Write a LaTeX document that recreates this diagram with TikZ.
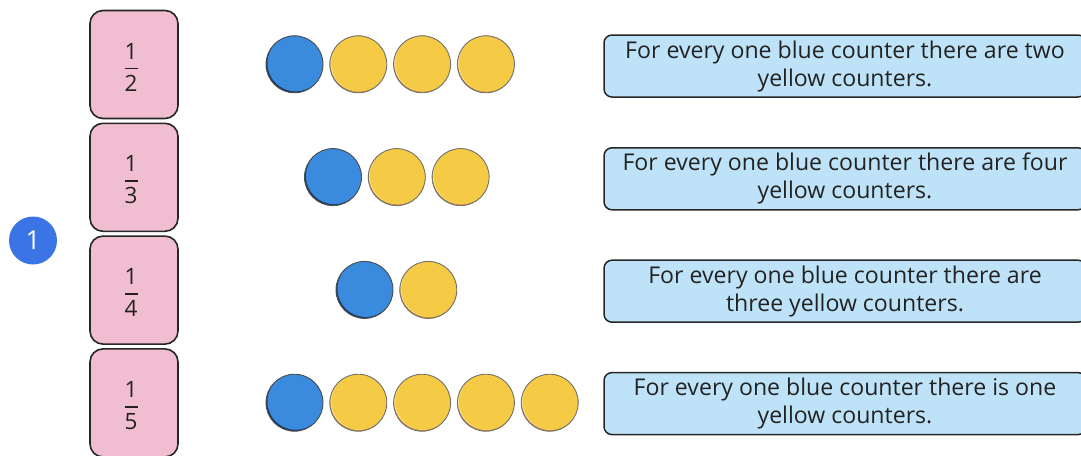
\documentclass[tikz,border=0pt]{standalone}
\usepackage{fontspec}
\setmainfont{Open Sans}
\definecolor{pinkfill}{HTML}{F0BED0}
\definecolor{boxfill}{HTML}{BEE3F8}
\definecolor{edge}{HTML}{262626}
\definecolor{txt}{HTML}{222222}
\definecolor{numblue}{HTML}{3B74E4}
\definecolor{bfill}{HTML}{3A8ADD}
\definecolor{brim}{HTML}{1D3C63}
\definecolor{yfill}{HTML}{F5CB45}
\definecolor{yrim}{HTML}{C98A2C}
\definecolor{cgray}{HTML}{707070}
\begin{document}
\begin{tikzpicture}[x=1pt,y=-1pt,
  fraccard/.style={draw=edge,line width=1.6pt,fill=pinkfill,rounded corners=13pt,minimum width=88pt,minimum height=108pt,inner sep=0pt},
  fracnum/.style={anchor=base,inner sep=0pt,text=txt,font=\fontsize{22.5}{26}\selectfont},
  fracbar/.style={line width=1.7pt,draw=txt},
  statement/.style={draw=edge,line width=1.5pt,fill=boxfill,rounded corners=8pt,minimum width=482pt,minimum height=62pt,align=center,text=txt,inner sep=0pt,font=\fontsize{23.1}{28}\selectfont},
  bluec/.style={circle,minimum size=57pt,inner sep=0pt,draw=cgray!70!black,line width=0.9pt,fill=brim,
    path picture={\fill[bfill] ([xshift=1.2pt,yshift=1.2pt]path picture bounding box.center) circle (28.2pt);}},
  yellowc/.style={circle,minimum size=57pt,inner sep=0pt,draw=cgray,line width=0.9pt,fill=yrim,
    path picture={\fill[yfill!60!white] ([xshift=0.4pt,yshift=1.2pt]path picture bounding box.center) circle (28.4pt);
                  \fill[yfill] ([xshift=1.3pt,yshift=1.2pt]path picture bounding box.center) circle (28.2pt);}},
  qnum/.style={circle,fill=numblue,minimum size=48pt,inner sep=0pt,text=white,font=\fontsize{26}{28}\selectfont}
]
\useasboundingbox (0,0) rectangle (1081,455);

\node[qnum] (q) at (33,240.5) {1};

% fraction cards
\foreach \k/\d in {0/2,1/3,2/4,3/5}{
  \pgfmathsetmacro{\cy}{64.5+112.8*\k}
  \node[fraccard] (card\k) at (134,\cy) {};
  \node[fracnum] (num\k) at ([xshift=-3pt,yshift=5.5pt]card\k.center) {1};
  \node[fracnum] (den\k) at ([xshift=-3pt,yshift=-26.5pt]card\k.center) {\d};
  \draw[fracbar] ([xshift=-9.5pt,yshift=-4pt]card\k.center) -- ([xshift=3.5pt,yshift=-4pt]card\k.center);
}

% counters
\foreach \k/\bx/\n in {0/294.5/3,1/333/2,2/364.5/1,3/294.5/4}{
  \pgfmathsetmacro{\cy}{64.3+112.8*\k}
  \node[bluec] (b\k) at (\bx,\cy) {};
  \foreach \j in {1,...,\n}{
    \node[yellowc] (y\k-\j) at (\bx+63.8*\j,\cy) {};
  }
}

% statements
\node[statement] (s0) at (845,66) {For every one blue counter there are two\\yellow counters.};
\node[statement] (s1) at (845,178.8) {For every one blue counter there are four\\yellow counters.};
\node[statement] (s2) at (845,291.2) {For every one blue counter there are\\three yellow counters.};
\node[statement] (s3) at (845,403.6) {For every one blue counter there is one\\yellow counters.};
\end{tikzpicture}
\end{document}
